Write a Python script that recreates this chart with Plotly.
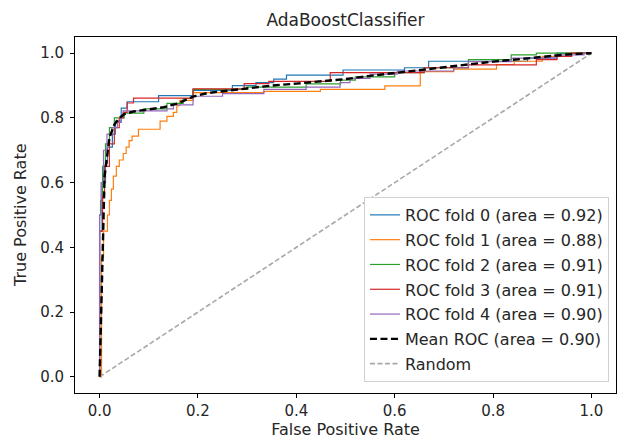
import plotly.graph_objects as go

# ---- data ----
fold0_fpr = [0, 0, 0.005, 0.012, 0.016, 0.026, 0.032, 0.044, 0.056, 0.12, 0.19, 0.27, 0.318, 0.354, 0.38, 0.495, 0.62, 0.669, 0.87, 0.93, 1.0]
fold0_tpr = [0, 0.45, 0.60, 0.66, 0.71, 0.75, 0.79, 0.83, 0.85, 0.869, 0.885, 0.90, 0.909, 0.92, 0.932, 0.948, 0.955, 0.975, 0.985, 1.0, 1.0]

fold1_fpr = [0, 0.004, 0.008, 0.016, 0.02, 0.024, 0.028, 0.034, 0.04, 0.048, 0.054, 0.06, 0.066, 0.079, 0.123, 0.137, 0.15, 0.157, 0.163, 0.19, 0.334, 0.449, 0.58, 0.652, 0.72, 0.807, 0.843, 0.9, 0.95, 1.0]
fold1_tpr = [0, 0.37, 0.45, 0.50, 0.545, 0.58, 0.62, 0.65, 0.67, 0.69, 0.71, 0.73, 0.744, 0.765, 0.79, 0.805, 0.817, 0.838, 0.854, 0.878, 0.882, 0.888, 0.899, 0.943, 0.951, 0.965, 0.975, 0.99, 1.0, 1.0]

fold2_fpr = [0, 0, 0.002, 0.006, 0.012, 0.02, 0.03, 0.05, 0.09, 0.137, 0.17, 0.19, 0.30, 0.42, 0.49, 0.52, 0.6, 0.66, 0.75, 0.837, 0.888, 1.0]
fold2_tpr = [0, 0.50, 0.545, 0.65, 0.72, 0.77, 0.80, 0.815, 0.828, 0.845, 0.86, 0.888, 0.895, 0.905, 0.917, 0.927, 0.94, 0.955, 0.98, 0.995, 1.0, 1.0]

fold3_fpr = [0, 0, 0.006, 0.01, 0.02, 0.03, 0.04, 0.048, 0.056, 0.069, 0.19, 0.294, 0.344, 0.469, 0.66, 0.75, 0.888, 0.93, 0.96, 1.0]
fold3_tpr = [0, 0.45, 0.56, 0.65, 0.72, 0.77, 0.80, 0.817, 0.846, 0.861, 0.89, 0.906, 0.913, 0.94, 0.955, 0.964, 0.98, 0.99, 1.0, 1.0]

fold4_fpr = [0, 0, 0.003, 0.008, 0.015, 0.025, 0.036, 0.044, 0.048, 0.137, 0.15, 0.19, 0.25, 0.334, 0.42, 0.489, 0.509, 0.55, 0.605, 0.72, 0.75, 0.837, 0.925, 0.985, 1.0]
fold4_tpr = [0, 0.50, 0.60, 0.70, 0.75, 0.77, 0.786, 0.805, 0.822, 0.828, 0.84, 0.867, 0.875, 0.888, 0.895, 0.909, 0.922, 0.935, 0.945, 0.955, 0.974, 0.985, 0.995, 1.0, 1.0]

mean_fpr = [0, 0.0101, 0.0202, 0.0303, 0.0404, 0.0505, 0.07, 0.10, 0.13, 0.16, 0.19, 0.22, 0.25, 0.30, 0.35, 0.40, 0.45, 0.50, 0.55, 0.60, 0.65, 0.70, 0.75, 0.80, 0.85, 0.90, 0.95, 1.0]
mean_tpr = [0, 0.62, 0.74, 0.78, 0.80, 0.812, 0.82, 0.826, 0.833, 0.845, 0.866, 0.877, 0.882, 0.892, 0.90, 0.906, 0.912, 0.92, 0.93, 0.939, 0.948, 0.958, 0.966, 0.974, 0.981, 0.989, 0.996, 1.0]

random_x = [0, 1]
random_y = [0, 1]

fold_names = ["ROC fold 0 (area = 0.92)", "ROC fold 1 (area = 0.88)", "ROC fold 2 (area = 0.91)",
              "ROC fold 3 (area = 0.91)", "ROC fold 4 (area = 0.90)"]
mean_name = "Mean ROC (area = 0.90)"
random_name = "Random"
title_text = "AdaBoostClassifier"
x_title = "False Positive Rate"
y_title = "True Positive Rate"
tick_vals = [0.0, 0.2, 0.4, 0.6, 0.8, 1.0]
tick_text = ["0.0", "0.2", "0.4", "0.6", "0.8", "1.0"]

colors = ["#1f77b4", "#ff7f0e", "#2ca02c", "#d62728", "#9467bd"]

folds = [(fold0_fpr, fold0_tpr), (fold1_fpr, fold1_tpr), (fold2_fpr, fold2_tpr),
         (fold3_fpr, fold3_tpr), (fold4_fpr, fold4_tpr)]

FONT = "DejaVu Sans"
TXT = "#262626"
fig = go.Figure()
for i, (fx, fy) in enumerate(folds):
    fig.add_trace(go.Scatter(x=fx, y=fy, mode="lines", line=dict(color=colors[i], width=1.2, shape="hv"),
                             name=fold_names[i], legendgroup=f"g{i}"))
fig.add_trace(go.Scatter(x=random_x, y=random_y, mode="lines",
                         line=dict(color="#a8a8a8", width=1.6, dash="5px,2.5px"),
                         name=random_name, legendgroup="g6", legendrank=1007))
fig.add_trace(go.Scatter(x=mean_fpr, y=mean_tpr, mode="lines",
                         line=dict(color="black", width=2.4, dash="7px,3.5px"),
                         name=mean_name, legendgroup="g5", legendrank=1006))

axis_common = dict(showline=True, linecolor="black", linewidth=1, mirror=True, ticks="outside",
                   ticklen=4, tickcolor="black", showgrid=False, zeroline=False,
                   range=[-0.05, 1.05], tickvals=tick_vals, ticktext=tick_text,
                   tickfont=dict(family=FONT, size=15, color=TXT))

fig.update_layout(
    width=621, height=441,
    margin=dict(l=75, r=5, t=37, b=48),
    paper_bgcolor="white", plot_bgcolor="white",
    title=dict(text=title_text, x=0.5, xref="paper", y=1 - 20 / 441, yanchor="middle",
               font=dict(family=FONT, size=17, color=TXT)),
    xaxis=dict(**axis_common, title=dict(text=x_title, font=dict(family=FONT, size=16, color=TXT), standoff=3)),
    yaxis=dict(**axis_common, ticklabelstandoff=3),
    legend=dict(x=0.987, y=0.031, xanchor="right", yanchor="bottom", bgcolor="white",
                bordercolor="#d0d0d0", borderwidth=1, tracegroupgap=1,
                font=dict(family=FONT, size=16, color=TXT)),
    showlegend=True,
)
fig.add_annotation(text=y_title, textangle=-90, xref="paper", yref="paper",
                   x=(20 - 75) / 541, y=0.5, xanchor="center", yanchor="middle",
                   showarrow=False, font=dict(family=FONT, size=16, color=TXT))

fig.write_html("out.html")
